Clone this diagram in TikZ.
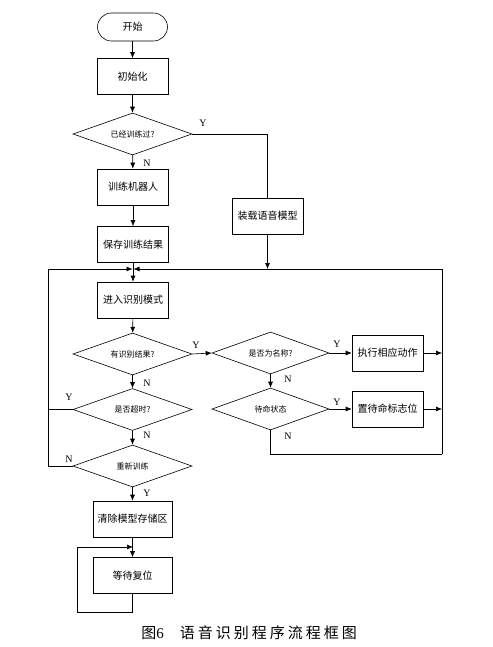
\documentclass[tikz,border=0pt]{standalone}
\usepackage{fontspec}
\setmainfont{Liberation Serif}
\newfontfamily\cjk{Noto Sans CJK SC}
\newfontfamily\cjkcap[LetterSpace=20]{Noto Sans CJK SC}
\usetikzlibrary{shapes.geometric,arrows.meta}
\begin{document}
\begin{tikzpicture}[x=1pt,y=-1pt,
  line width=0.6pt,
  >={Latex[length=6pt,width=5pt]},
  box/.style={draw,rectangle,minimum width=71pt,minimum height=36pt,inner sep=1pt,font=\cjk\fontsize{10}{12}\selectfont},
  wbox/.style={box,minimum width=79pt},
  term/.style={draw,rectangle,rounded corners=14pt,minimum width=70pt,minimum height=28pt,font=\cjk\fontsize{10}{12}\selectfont},
  dec/.style={draw,diamond,aspect=2.8,minimum width=119pt,minimum height=42pt,inner sep=0pt,font=\cjk\fontsize{8}{10}\selectfont},
  lab/.style={font=\fontsize{10}{12}\selectfont,inner sep=0pt}]
\useasboundingbox (0,0) rectangle (492,647);
% nodes
\node[term] (start) at (132.5,27) {开始};
\node[box] (init) at (132.5,76.5) {初始化};
\node[dec] (d1) at (132.5,134) {已经训练过?};
\node[box] (train) at (133,187) {训练机器人};
\node[box] (save) at (133,244.5) {保存训练结果};
\node[box] (load) at (267.5,216) {装载语音模型};
\node[box] (recog) at (133,300) {进入识别模式};
\node[dec] (d2) at (132.5,354) {有识别结果?};
\node[dec,minimum width=117pt] (d3) at (270.5,353) {是否为名称?};
\node[box] (act) at (387.5,353) {执行相应动作};
\node[dec,minimum width=117pt] (d4) at (270.5,409) {待命状态};
\node[box] (flag) at (387.5,409) {置待命标志位};
\node[dec] (d5) at (132.5,409.5) {是否超时?};
\node[dec] (d6) at (132.5,466) {重新训练};
\node[wbox] (clear) at (132.5,519) {清除模型存储区};
\node[wbox] (wait) at (132.5,575.5) {等待复位};
% coordinates
\coordinate (J) at (133,269);
\coordinate (ld) at (267.5,269);
\coordinate (lt) at (48,269);
\coordinate (lb) at (48,466);
\coordinate (rt) at (442,269);
\coordinate (rb) at (442,454);
\coordinate (lp) at (77,547);
\coordinate (lpj) at (133,547);
% connectors
\draw[->] (start) -- (init);
\draw[->] (init) -- (d1);
\draw[->] (d1) -- (train);
\draw (d1.east) -| (load.north);
\draw[->] (train) -- (save);
\draw[->] (save) -- (recog);
\draw[->] (load) -- (ld);
\draw[->] (lb) -- (lt) -- ([xshift=-0.5pt]J);
\draw[->] (rb) -- (rt) -- ([xshift=0.5pt]J);
\draw[->] (recog) -- (d2);
\draw[->] (d2.east) -- (d3.west);
\draw[->] (d2) -- (d5);
\draw[->] (d3.east) -- (act.west);
\draw[->] (d3) -- (d4);
\draw[->] (d4.east) -- (flag.west);
\draw (d4.south) |- (rb);
\draw[->] (act.east) -- (act.east -| rt);
\draw[->] (flag.east) -- (flag.east -| rt);
\draw[->] (d5) -- (d6);
\draw (d5.west) -- (d5.west -| lt);
\draw (d6.west) -- (lb);
\draw[->] (d6) -- (clear);
\draw[->] (clear) -- (wait);
\draw[->] (wait.south) -- ++(0,18) -| (lp) -- (lpj);
% labels
\node[lab] at (203,123) {Y};
\node[lab] at (147,163) {N};
\node[lab] at (196,345) {Y};
\node[lab] at (147,383) {N};
\node[lab] at (337,344) {Y};
\node[lab] at (288,379) {N};
\node[lab] at (337,402) {Y};
\node[lab] at (288,436) {N};
\node[lab] at (69,397) {Y};
\node[lab] at (147,435) {N};
\node[lab] at (69,459) {N};
\node[lab] at (147,493) {Y};
\node[inner sep=0pt] (cap) at (249,632.5) {\cjk\fontsize{15}{18}\selectfont 图\fontspec{Liberation Serif}6\hspace{16pt}\cjkcap 语音识别程序流程框图};
\end{tikzpicture}
\end{document}
